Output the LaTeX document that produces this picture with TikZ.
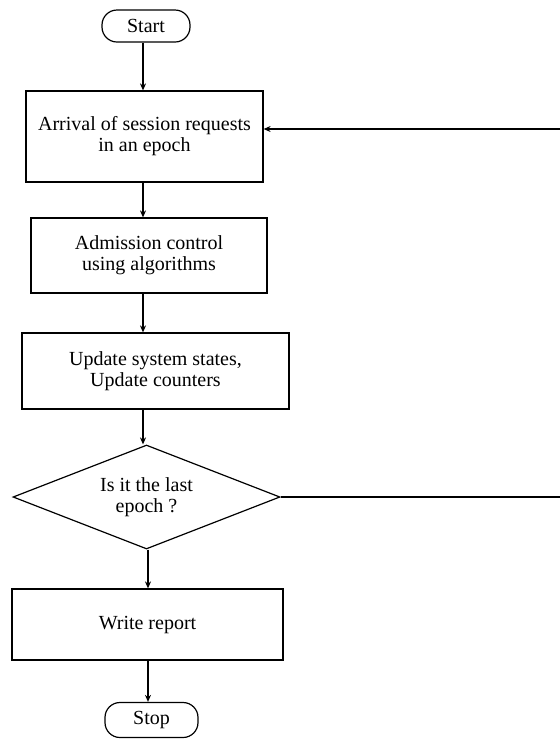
\documentclass[tikz,border=0pt]{standalone}
\usepackage{fontspec}
\setmainfont{Liberation Serif}
\usetikzlibrary{shapes.geometric,arrows.meta}
\begin{document}
\begin{tikzpicture}[x=1pt,y=-1pt,
  every node/.style={font=\fontsize{20}{21}\selectfont, align=center, inner sep=0pt},
  procbox/.style={draw, line width=1.2pt, rectangle},
  termbox/.style={draw, line width=1.2pt, rectangle, rounded corners=15pt},
  decbox/.style={draw, line width=1.2pt, diamond, shape aspect=2.6},
  flow/.style={line width=1.2pt, -{Stealth[length=7pt,width=6pt]}},
  plain/.style={line width=1.2pt}]
\useasboundingbox (0,0) rectangle (560,740);
\node[termbox, minimum width=88pt, minimum height=32pt] (start) at (146,26) {Start};
\node[procbox, minimum width=237pt, minimum height=91pt] (b1) at (144.5,136.5) {Arrival of session requests\\in an epoch};
\node[procbox, minimum width=236pt, minimum height=75pt] (b2) at (149,255.5) {Admission control\\using algorithms};
\node[procbox, minimum width=267pt, minimum height=76pt] (b3) at (155.5,371) {Update system states,\\Update counters};
\node[decbox, minimum width=267pt, minimum height=104pt] (dec) at (146.5,497) {Is it the last\\epoch ?};
\node[procbox, minimum width=271pt, minimum height=71pt] (b4) at (147.5,624.5) {Write report};
\node[termbox, minimum width=93pt, minimum height=35pt] (stop) at (151.5,720) {Stop};
\coordinate (ax) at (143,0);
\coordinate (bx) at (148,0);
\coordinate (r1) at (560,129);
\coordinate (r2) at (560,497);
\draw[flow] (ax |- start.south) -- (ax |- b1.north);
\draw[flow] (ax |- b1.south) -- (ax |- b2.north);
\draw[flow] (ax |- b2.south) -- (ax |- b3.north);
\draw[flow] (ax |- b3.south) -- (ax |- dec.north);
\draw[flow] (bx |- dec.south) -- (bx |- b4.north);
\draw[flow] (bx |- b4.south) -- (bx |- stop.north);
\draw[flow] (r1) -- (r1 -| b1.east);
\draw[plain] (dec.east) -- (r2);
\end{tikzpicture}
\end{document}
